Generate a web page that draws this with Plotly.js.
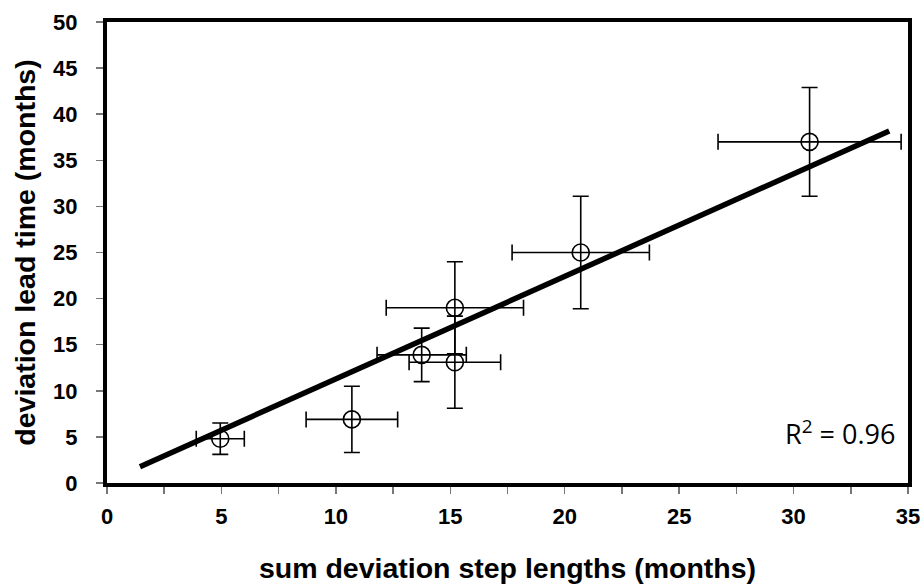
<!DOCTYPE html>
<html>
<head>
<meta charset="utf-8">
<script src="https://cdn.plot.ly/plotly-3.0.1.min.js"></script>
<style>html,body{margin:0;padding:0;background:#fff;}#chart{width:922px;height:587px;}</style>
</head>
<body>
<div id="chart"></div>
<script>
// Data
var sumDeviation = [4.95, 10.7, 13.75, 15.2, 15.2, 20.7, 30.7];
var leadTime     = [4.8, 6.9, 13.9, 13.1, 19.0, 25.0, 37.0];
var xErr         = [1.05, 2.0, 1.95, 2.0, 3.0, 3.0, 4.0];
var yErr         = [1.7, 3.6, 2.9, 5.0, 5.0, 6.1, 5.9];
var fitRangeX    = [1.44, 34.18];
var fitSlope     = 1.112;
var fitIntercept = 0.17;
var r2Label      = "R<sup>2</sup> = 0.96";
var xTickVals    = [0, 5, 10, 15, 20, 25, 30, 35];
var yTickVals    = [0, 5, 10, 15, 20, 25, 30, 35, 40, 45, 50];
var xTitle       = "sum deviation step lengths (months)";
var yTitle       = "deviation lead time (months)";

var fitY = fitRangeX.map(function (x) { return fitSlope * x + fitIntercept; });

var traces = [
  {
    x: fitRangeX, y: fitY, type: 'scatter', mode: 'lines',
    line: {color: '#000', width: 5.5}, hoverinfo: 'skip', showlegend: false
  },
  {
    x: sumDeviation, y: leadTime, type: 'scatter', mode: 'markers',
    marker: {symbol: 'circle-open', size: 17, color: '#000', line: {width: 1.6, color: '#000'}},
    error_x: {type: 'data', array: xErr, visible: true, color: '#000', thickness: 1.6, width: 8},
    error_y: {type: 'data', array: yErr, visible: true, color: '#000', thickness: 1.6, width: 8},
    showlegend: false
  }
];

var fam = 'Liberation Sans, Arial, sans-serif';
var tickFont = {family: fam, size: 22, color: '#000'};
var bold = function (v) { return '<b>' + v + '</b>'; };
var layout = {
  width: 922, height: 587,
  margin: {l: 107, r: 14, t: 22, b: 104},
  paper_bgcolor: '#fff', plot_bgcolor: '#fff',
  showlegend: false,
  xaxis: {
    range: [0, 35], tickvals: xTickVals, ticktext: xTickVals.map(bold),
    showgrid: false, zeroline: false, automargin: false,
    showline: true, linecolor: '#000', linewidth: 4, mirror: true,
    ticks: 'outside', ticklen: 7, tickwidth: 1.5, tickcolor: '#777',
    minor: {dtick: 2.5, tick0: 0, ticks: 'outside', ticklen: 7, tickwidth: 1.5, tickcolor: '#777'},
    tickfont: tickFont, ticklabelstandoff: 4,
    title: {text: bold(xTitle), font: {family: fam, size: 28.5, color: '#000'}, standoff: 31}
  },
  yaxis: {
    range: [0, 50], tickvals: yTickVals, ticktext: yTickVals.map(bold),
    showgrid: false, zeroline: false, automargin: false,
    showline: true, linecolor: '#000', linewidth: 4, mirror: true,
    ticks: 'outside', ticklen: 7, tickwidth: 1.5, tickcolor: '#777',
    tickfont: tickFont, ticklabelstandoff: 14,
    title: {text: bold(yTitle), font: {family: fam, size: 28.5, color: '#000'}, standoff: 10}
  },
  annotations: [{
    x: 34.5, y: 5.5, xref: 'x', yref: 'y', xanchor: 'right', yanchor: 'middle',
    text: r2Label, showarrow: false,
    font: {family: 'Open Sans, DejaVu Sans, sans-serif', size: 27, color: '#000'}
  }]
};

Plotly.newPlot('chart', traces, layout, {displayModeBar: false, staticPlot: true});
</script>
</body>
</html>
